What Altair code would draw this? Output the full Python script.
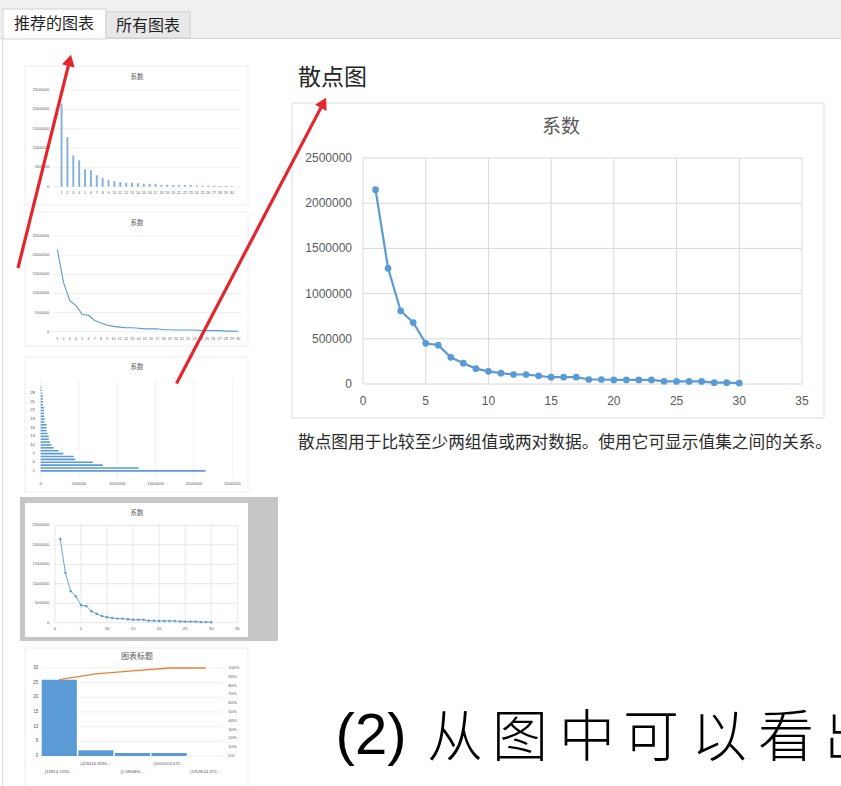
import math
import altair as alt
import pandas as pd

# ---- data ------------------------------------------------------------------
order = list(range(1, 31))
coef = [2150000, 1280000, 810000, 680000, 450000, 430000, 295000, 230000, 170000, 140000,
        120000, 105000, 105000, 90000, 75000, 75000, 75000, 50000, 50000, 45000,
        45000, 45000, 45000, 30000, 28000, 28000, 28000, 15000, 15000, 10000]

value_ticks = [0, 500000, 1000000, 1500000, 2000000, 2500000]
index_ticks = [0, 5, 10, 15, 20, 25, 30, 35]
hbar_ticks = [1, 4, 7, 10, 13, 16, 19, 22, 25, 28]

bin_labels = ["[13814.1633,...", "(426414.8333,...", "(1.0966E6,...",
              "(2000014.672,...", "(1918614.672,..."]
bin_counts = [26, 2, 1, 1, 0]
count_ticks = [0, 5, 10, 15, 20, 25, 30]
pct_ticks = [0, 10, 20, 30, 40, 50, 60, 70, 80, 90, 100]

# ---- styles ----------------------------------------------------------------
BLUE = "#5B9BD5"
ORANGE = "#ED7D31"
GRID = "#D9D9D9"
INK = "#595959"
RED = "#E3262D"
CJK = "Noto Sans CJK SC"
NUM = "Liberation Sans"

one = pd.DataFrame({"k": [0]})
series = pd.DataFrame({"n": order, "v": coef})
vt = pd.DataFrame({"t": value_ticks, "lab": [str(t) for t in value_ticks]})
it = pd.DataFrame({"t": index_ticks, "lab": [str(t) for t in index_ticks]})
nt = pd.DataFrame({"t": order, "lab": [str(t) for t in order]})
ht = pd.DataFrame({"t": hbar_ticks, "lab": [str(t) for t in hbar_ticks]})
hist = pd.DataFrame({"bin": bin_labels, "count": bin_counts, "rank": list(range(len(bin_labels)))})
ct = pd.DataFrame({"t": count_ticks, "lab": [str(t) for t in count_ticks]})
pt = pd.DataFrame({"t": pct_ticks, "lab": [f"{t}%" for t in pct_ticks]})


def lin(domain, rng):
    return alt.Scale(domain=domain, range=rng, nice=False, zero=False)


def qx(field, scale):
    return alt.X(field, type="quantitative", scale=scale, axis=None)


def qy(field, scale):
    return alt.Y(field, type="quantitative", scale=scale, axis=None)


def box(x0, x1, y0, y1, fill, stroke=None, sw=1):
    kw = {"fill": fill}
    if stroke:
        kw.update(stroke=stroke, strokeWidth=sw)
    return alt.Chart(one).mark_rect(**kw).encode(
        x=alt.value(x0), x2=alt.value(x1), y=alt.value(y0), y2=alt.value(y1))


def seg(x0, y0, x1, y1, color, sw=1):
    return alt.Chart(one).mark_rule(color=color, strokeWidth=sw).encode(
        x=alt.value(x0), y=alt.value(y0), x2=alt.value(x1), y2=alt.value(y1))


def label(txt, x, y, size, color, align="center", font=CJK, weight="normal"):
    return alt.Chart(one).mark_text(text=txt, fontSize=size, color=color, align=align,
                                    baseline="middle", font=font, fontWeight=weight).encode(
        x=alt.value(x), y=alt.value(y))


def arrow(tail, tip, sw=3.2, head=170):
    dx, dy = tip[0] - tail[0], tip[1] - tail[1]
    d = math.hypot(dx, dy)
    ux, uy = dx / d, dy / d
    cx, cy = tip[0] - 5.5 * ux, tip[1] - 5.5 * uy
    ang = math.degrees(math.atan2(dx, -dy))
    shaft = seg(tail[0], tail[1], cx, cy, RED, sw)
    tri = alt.Chart(one).mark_point(shape="triangle-up", filled=True, color=RED, opacity=1,
                                    size=head, angle=ang).encode(x=alt.value(cx), y=alt.value(cy))
    return [shaft, tri]


# ---- 系数 scatter with connecting line ---------------------------------------
def scatter_panel(xr, yr, fs, ylab_x, xlab_y, dot, lw, gw=1):
    xs = lin([0, 35], xr)
    ys = lin([0, 2500000], yr)
    vgrid = alt.Chart(it).mark_rule(color=GRID, strokeWidth=gw).encode(
        x=qx("t", xs), y=alt.value(yr[1]), y2=alt.value(yr[0]))
    hgrid = alt.Chart(vt).mark_rule(color=GRID, strokeWidth=gw).encode(
        y=qy("t", ys), x=alt.value(xr[0]), x2=alt.value(xr[1]))
    line = alt.Chart(series).mark_line(color=BLUE, strokeWidth=lw).encode(
        x=qx("n", xs), y=qy("v", ys))
    dots = alt.Chart(series).mark_circle(color=BLUE, opacity=1, size=dot).encode(
        x=qx("n", xs), y=qy("v", ys))
    xl = alt.Chart(it).mark_text(font=NUM, fontSize=fs, color=INK, baseline="middle").encode(
        x=qx("t", xs), y=alt.value(xlab_y), text="lab:N")
    yl = alt.Chart(vt).mark_text(font=NUM, fontSize=fs, color=INK, align="right",
                                 baseline="middle").encode(
        y=qy("t", ys), x=alt.value(ylab_x), text="lab:N")
    return alt.layer(vgrid, hgrid, line, dots, xl, yl)


# ---- 系数 column thumbnail ----------------------------------------------------
def column_panel():
    xs = lin([0.5, 30.5], [53.6, 239.8])
    ys = lin([0, 2500000], [186.7, 90])
    hgrid = alt.Chart(vt).mark_rule(color="#E6E6E6", strokeWidth=0.6).encode(
        y=qy("t", ys), x=alt.value(53.3), x2=alt.value(240))
    bars = alt.Chart(series).mark_bar(color="#7FB0DE", size=1.9, orient="vertical").encode(
        x=qx("n", xs), y=qy("v", ys))
    xl = alt.Chart(nt).mark_text(font=NUM, fontSize=3.6, color=INK).encode(
        x=qx("t", xs), y=alt.value(193.3), text="lab:N")
    yl = alt.Chart(vt).mark_text(font=NUM, fontSize=4.3, color=INK, align="right").encode(
        y=qy("t", ys), x=alt.value(49.3), text="lab:N")
    return alt.layer(hgrid, bars, xl, yl)


# ---- 系数 line thumbnail ------------------------------------------------------
def line_panel():
    xs = lin([0.5, 30.5], [54.2, 241.4])
    ys = lin([0, 2500000], [331.7, 236])
    hgrid = alt.Chart(vt).mark_rule(color="#E6E6E6", strokeWidth=0.6).encode(
        y=qy("t", ys), x=alt.value(53.3), x2=alt.value(241.7))
    line = alt.Chart(series).mark_line(color=BLUE, strokeWidth=1.1).encode(
        x=qx("n", xs), y=qy("v", ys))
    xl = alt.Chart(nt).mark_text(font=NUM, fontSize=3.6, color=INK).encode(
        x=qx("t", xs), y=alt.value(339), text="lab:N")
    yl = alt.Chart(vt).mark_text(font=NUM, fontSize=4.3, color=INK, align="right").encode(
        y=qy("t", ys), x=alt.value(49.3), text="lab:N")
    return alt.layer(hgrid, line, xl, yl)


# ---- 系数 horizontal bar thumbnail -------------------------------------------
def hbar_panel():
    xs = lin([0, 2500000], [40.7, 232.3])
    ys = lin([0.5, 30.5], [477.3, 381])
    vgrid = alt.Chart(vt).mark_rule(color="#E6E6E6", strokeWidth=0.6).encode(
        x=qx("t", xs), y=alt.value(380), y2=alt.value(478.3))
    bars = alt.Chart(series).mark_bar(color=BLUE, size=1.6, orient="horizontal").encode(
        x=qx("v", xs), y=qy("n", ys))
    xl = alt.Chart(vt).mark_text(font=NUM, fontSize=4.3, color=INK).encode(
        x=qx("t", xs), y=alt.value(484), text="lab:N")
    yl = alt.Chart(ht).mark_text(font=NUM, fontSize=4.3, color=INK, align="right").encode(
        y=qy("t", ys), x=alt.value(35), text="lab:N")
    return alt.layer(vgrid, bars, xl, yl)


# ---- pareto thumbnail (图表标题) ----------------------------------------------
def pareto_panel():
    xb = alt.Scale(type="band", domain=bin_labels, range=[41.7, 223.3],
                   paddingInner=0.04, paddingOuter=0)
    yc = lin([0, 30], [756, 668])
    yp = lin([0, 100], [756, 668])
    bx = alt.X("bin:N", scale=xb, sort=None, axis=None)
    hgrid = alt.Chart(ct).mark_rule(color="#E6E6E6", strokeWidth=0.6).encode(
        y=qy("t", yc), x=alt.value(41.7), x2=alt.value(223.3))
    bars = alt.Chart(hist).mark_bar(color=BLUE).encode(x=bx, y=qy("count", yc))
    ll = alt.Chart(ct).mark_text(font=NUM, fontSize=4.5, color=INK, align="right").encode(
        y=qy("t", yc), x=alt.value(38.3), text="lab:N")
    counts = alt.layer(hgrid, bars, ll)
    cum = alt.Chart(hist).transform_window(
        cum="sum(count)", sort=[alt.SortField("rank")], frame=[None, 0]
    ).transform_joinaggregate(total="sum(count)").transform_calculate(
        pct="100 * datum.cum / datum.total"
    ).mark_line(color=ORANGE, strokeWidth=1.3).encode(x=bx, y=qy("pct", yp))
    rl = alt.Chart(pt).mark_text(font=NUM, fontSize=4.3, color=INK, align="left").encode(
        y=qy("t", yp), x=alt.value(228.3), text="lab:N")
    pcts = alt.layer(cum, rl)
    low = alt.Chart(hist).transform_filter("datum.rank % 2 == 0").mark_text(
        font=NUM, fontSize=4.3, color=INK).encode(x=bx, y=alt.value(771.7), text="bin:N")
    high = alt.Chart(hist).transform_filter("datum.rank % 2 == 1").mark_text(
        font=NUM, fontSize=4.3, color=INK).encode(x=bx, y=alt.value(764.3), text="bin:N")
    return alt.layer(counts, pcts, low, high).resolve_scale(y="independent")


# ---- window furniture --------------------------------------------------------
frame = [
    box(0, 841, 0, 38, "#F0F0F0"),
    seg(0, 38.5, 841, 38.5, "#D5D5D5"),
    seg(2.5, 38, 2.5, 786, "#DADADA"),
    box(3, 106, 9, 39, "#FFFFFF", "#D3D3D3"),
    box(106, 190, 12, 38, "#E8E8E8", "#CFCFCF"),
    label("推荐的图表", 54, 24, 16, "#1F1F1F"),
    label("所有图表", 148, 26, 16, "#1F1F1F"),
    # thumbnail cards
    box(25, 248, 66, 205, "#FFFFFF", "#EDEDED"),
    box(25, 248, 212, 346, "#FFFFFF", "#EDEDED"),
    box(25, 248, 357, 492, "#FFFFFF", "#EDEDED"),
    box(20, 278, 497, 641, "#C6C6C6"),
    box(25, 248, 503, 637, "#FFFFFF"),
    box(25, 248, 648, 790, "#FFFFFF", "#EDEDED"),
    label("系数", 137, 77, 6.5, INK),
    label("系数", 137, 222.7, 6.5, INK),
    label("系数", 137, 367.3, 6.5, INK),
    label("系数", 137, 512.7, 6.5, INK),
    label("图表标题", 137, 656.7, 8, INK),
    # preview pane
    label("散点图", 298, 78, 23, "#262626", align="left"),
    box(292, 824, 103, 418, "#FFFFFF", "#DDDDDD"),
    label("系数", 561, 127, 19, INK),
    label("散点图用于比较至少两组值或两对数据。使用它可显示值集之间的关系。", 298, 443, 16.7,
          "#2B2B2B", align="left"),
]

# caption running off the right edge of the page
big = [label("(2)", 371, 737, 58, "#000000", font=NUM)]
for ch, cx in zip("从图中可以看出", [455, 520, 587, 651, 719, 786, 852]):
    big.append(label(ch, cx, 739, 56, "#000000", weight=300))

arrows = arrow((18, 268), (71, 55)) + arrow((176.5, 383.5), (326, 98))

panels = [
    column_panel(),
    line_panel(),
    hbar_panel(),
    scatter_panel([55, 237.3], [622.7, 525.3], 4.3, 49.3, 629.3, 6, 0.9, 0.6),
    pareto_panel(),
    scatter_panel([363, 802], [384, 158], 12, 352, 401, 45, 2.2),
]

chart = alt.layer(*frame, *panels, *big, *arrows).resolve_scale(
    x="independent", y="independent"
).properties(
    width=841, height=786, padding=0,
    autosize=alt.AutoSizeParams(type="none"), background="white"
).configure_view(stroke=None)

chart.save("out.html", embed_options={"renderer": "svg", "actions": False})
